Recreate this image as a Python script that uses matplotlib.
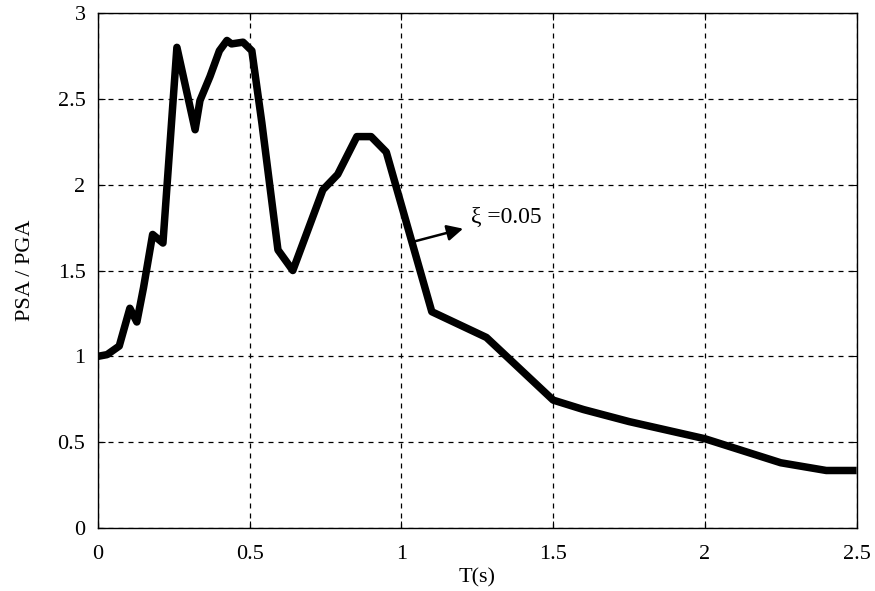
import matplotlib
matplotlib.use("Agg")
import matplotlib.pyplot as plt

# spectral acceleration ratio
T = [0.0, 0.03, 0.07, 0.105, 0.128, 0.15, 0.18, 0.214, 0.26, 0.32, 0.336, 0.369,
     0.40, 0.425, 0.44, 0.478, 0.507, 0.54, 0.593, 0.642, 0.741, 0.79, 0.853,
     0.90, 0.95, 1.10, 1.28, 1.5, 1.6, 1.75, 2.0, 2.25, 2.4, 2.5]
psa = [1.0, 1.01, 1.06, 1.28, 1.2, 1.4, 1.71, 1.66, 2.8, 2.32, 2.49, 2.63,
       2.78, 2.84, 2.82, 2.83, 2.78, 2.36, 1.62, 1.50, 1.97, 2.06, 2.28,
       2.28, 2.19, 1.26, 1.11, 0.745, 0.69, 0.62, 0.52, 0.38, 0.335, 0.335]

xticks = [0, 0.5, 1, 1.5, 2, 2.5]
xticklabels = ["0", "0.5", "1", "1.5", "2", "2.5"]
yticks = [0, 0.5, 1, 1.5, 2, 2.5, 3]
yticklabels = ["0", "0.5", "1", "1.5", "2", "2.5", "3"]

plt.rcParams["font.family"] = "Liberation Serif"

fig = plt.figure(figsize=(8.75, 5.91), dpi=100)
ax = fig.add_axes([0.112, 0.1066, 0.867, 0.8714])

ax.plot(T, psa, color="black", linewidth=5.4, solid_joinstyle="round",
        solid_capstyle="butt")

ax.set_xlim(0, 2.5)
ax.set_ylim(0, 3)
ax.set_xticks(xticks)
ax.set_xticklabels(xticklabels)
ax.set_yticks(yticks)
ax.set_yticklabels(yticklabels)
ax.tick_params(direction="in", length=5, labelsize=16, top=True, right=True)
ax.tick_params(axis="x", pad=12)
ax.tick_params(axis="y", pad=9)
ax.grid(True, linestyle=(0, (4, 4)), color="black", linewidth=0.9)

for s in ax.spines.values():
    s.set_linewidth(1.0)

ax.set_xlabel("T(s)", fontsize=16, labelpad=3)
ax.set_ylabel("PSA / PGA", fontsize=16, labelpad=16)

ax.annotate("\u03be =0.05", xy=(1.044, 1.67), xytext=(1.23, 1.81),
            fontsize=17, va="center", ha="left",
            arrowprops=dict(arrowstyle="<|-", color="black", lw=1.8,
                            mutation_scale=24, shrinkA=4, shrinkB=0))

fig.savefig("out.png", dpi=100, facecolor="white")
